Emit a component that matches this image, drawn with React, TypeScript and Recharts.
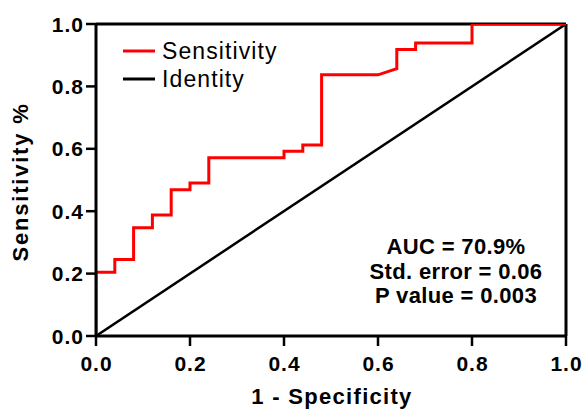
import React from "react";
import {
  LineChart,
  Line,
  XAxis,
  YAxis,
  ReferenceLine,
  Legend,
  Customized,
} from "recharts";

// ROC curve (step points, 1 - specificity vs sensitivity)
const rocFpr = [
  0, 0, 0.04, 0.04, 0.08, 0.08, 0.12, 0.12, 0.16, 0.16, 0.2, 0.2, 0.24, 0.24,
  0.4, 0.4, 0.44, 0.44, 0.48, 0.48, 0.6, 0.64, 0.64, 0.68, 0.68, 0.8, 0.8, 1,
];
const rocTpr = [
  0, 0.204, 0.204, 0.245, 0.245, 0.347, 0.347, 0.388, 0.388, 0.469, 0.469,
  0.49, 0.49, 0.571, 0.571, 0.592, 0.592, 0.612, 0.612, 0.837, 0.837, 0.857,
  0.918, 0.918, 0.939, 0.939, 1, 1,
];
const identityX = [0, 1];
const identityY = [0, 1];

const ticks = [0, 0.2, 0.4, 0.6, 0.8, 1.0];
const statLines = ["AUC = 70.9%", "Std. error = 0.06", "P value = 0.003"];
const seriesNames = ["Sensitivity", "Identity"];
const seriesColors: Record<string, string> = {
  Sensitivity: "#ff0000",
  Identity: "#000000",
};

const FONT = '"Liberation Sans", Arial, Helvetica, sans-serif';

const rocData = rocFpr.map((x, i) => ({ x, y: rocTpr[i] }));
const identityData = identityX.map((x, i) => ({ x, y: identityY[i] }));

const XTick = ({ x, y, payload }: any) => (
  <text
    x={x + 0.5}
    y={y + 25}
    textAnchor="middle"
    fontFamily={FONT}
    fontWeight="bold"
    fontSize={21}
    letterSpacing={1}
    fill="#000"
  >
    {payload.value.toFixed(1)}
  </text>
);

const YTick = ({ x, y, payload }: any) => (
  <text
    x={x - 2}
    y={y + 7.5}
    textAnchor="end"
    fontFamily={FONT}
    fontWeight="bold"
    fontSize={21}
    letterSpacing={1}
    fill="#000"
  >
    {payload.value.toFixed(1)}
  </text>
);

const LegendBox = ({ payload }: any) => {
  const items = [...(payload || [])].sort(
    (a: any, b: any) => seriesNames.indexOf(a.value) - seriesNames.indexOf(b.value)
  );
  return (
    <svg width={180} height={62}>
      {items.map((item: any, i: number) => (
        <g key={item.value}>
          <line
            x1={8}
            x2={40}
            y1={15 + i * 28}
            y2={15 + i * 28}
            stroke={seriesColors[item.value]}
            strokeWidth={3}
          />
          <text
            x={47}
            y={23 + i * 28}
            fontFamily={FONT}
            fontSize={23}
            letterSpacing={1.1}
            fill="#000"
          >
            {item.value}
          </text>
        </g>
      ))}
    </svg>
  );
};

const Annotations = () => (
  <g fontFamily={FONT} fontWeight="bold" fill="#000">
    {statLines.map((s, i) => (
      <text
        key={s}
        x={456}
        y={254 + i * 24.5}
        textAnchor="middle"
        fontSize={22}
        letterSpacing={0.35}
      >
        {s}
      </text>
    ))}
    <text
      x={332}
      y={404}
      textAnchor="middle"
      fontSize={22}
      letterSpacing={1.3}
    >
      1 - Specificity
    </text>
    <text
      x={28}
      y={182}
      textAnchor="middle"
      fontSize={22}
      letterSpacing={1.8}
      transform="rotate(-90, 28, 182)"
    >
      Sensitivity %
    </text>
  </g>
);

export default function App() {
  return (
    <div style={{ position: "absolute", left: 0, top: 0, width: 585, height: 412, background: "#fff" }}>
      <LineChart
        width={585}
        height={412}
        margin={{ top: 24, right: 19, bottom: 0, left: 0 }}
      >
        <XAxis
          type="number"
          dataKey="x"
          domain={[0, 1]}
          ticks={ticks}
          height={76}
          tickSize={10}
          tickMargin={0}
          axisLine={{ stroke: "#000", strokeWidth: 3 }}
          tickLine={{ stroke: "#000", strokeWidth: 2.5 }}
          tick={<XTick />}
          allowDataOverflow
        />
        <YAxis
          type="number"
          dataKey="y"
          domain={[0, 1]}
          ticks={ticks}
          width={96}
          tickSize={10}
          tickMargin={0}
          axisLine={{ stroke: "#000", strokeWidth: 3 }}
          tickLine={{ stroke: "#000", strokeWidth: 2.5 }}
          tick={<YTick />}
          allowDataOverflow
        />
        <ReferenceLine y={1} stroke="#000" strokeWidth={3} />
        <ReferenceLine x={1} stroke="#000" strokeWidth={3} />
        <Line
          data={identityData}
          dataKey="y"
          name="Identity"
          type="linear"
          stroke="#000"
          strokeWidth={2.5}
          dot={false}
          isAnimationActive={false}
        />
        <Line
          data={rocData}
          dataKey="y"
          name="Sensitivity"
          type="linear"
          stroke="#ff0000"
          strokeWidth={3}
          dot={false}
          isAnimationActive={false}
        />
        <Legend
          layout="vertical"
          align="center"
          verticalAlign="middle"
          content={<LegendBox />}
          wrapperStyle={{ position: "absolute", left: 115, top: 36, width: 180, height: 62 }}
        />
        <Customized component={Annotations} />
      </LineChart>
    </div>
  );
}
